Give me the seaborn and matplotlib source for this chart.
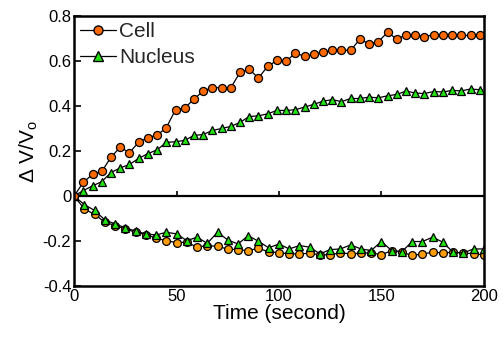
import matplotlib
matplotlib.use('Agg')
import matplotlib.pyplot as plt
import seaborn as sns
from matplotlib.lines import Line2D

# swelling (upper) sampled every 4.5 s
time_up = [0, 4.5, 9, 13.5, 18, 22.5, 27, 31.5, 36, 40.5, 45, 49.5, 54, 58.5, 63,
           67.5, 72, 76.5, 81, 85.5, 90, 94.5, 99, 103.5, 108, 112.5, 117, 121.5,
           126, 130.5, 135, 139.5, 144, 148.5, 153, 157.5, 162, 166.5, 171, 175.5,
           180, 184.5, 189, 193.5, 198]
cell_up = [0, 0.061, 0.096, 0.109, 0.172, 0.217, 0.192, 0.239, 0.259, 0.270, 0.303,
           0.383, 0.392, 0.429, 0.467, 0.481, 0.481, 0.481, 0.549, 0.562, 0.524,
           0.576, 0.602, 0.598, 0.635, 0.620, 0.629, 0.638, 0.647, 0.647, 0.647,
           0.696, 0.676, 0.685, 0.727, 0.697, 0.715, 0.717, 0.706, 0.717, 0.713,
           0.713, 0.713, 0.713, 0.713]
nuc_up = [0, 0.024, 0.045, 0.064, 0.104, 0.125, 0.140, 0.167, 0.188, 0.205, 0.238,
          0.241, 0.247, 0.269, 0.273, 0.291, 0.300, 0.309, 0.327, 0.353, 0.356,
          0.365, 0.380, 0.380, 0.383, 0.395, 0.407, 0.421, 0.428, 0.419, 0.433,
          0.433, 0.439, 0.436, 0.445, 0.451, 0.466, 0.457, 0.455, 0.464, 0.462,
          0.469, 0.467, 0.475, 0.472]

# shrinking (lower) sampled every 5 s
time_low = [0, 5, 10, 15, 20, 25, 30, 35, 40, 45, 50, 55, 60, 65, 70, 75, 80, 85,
            90, 95, 100, 105, 110, 115, 120, 125, 130, 135, 140, 145, 150, 155,
            160, 165, 170, 175, 180, 185, 190, 195, 200]
cell_low = [0, -0.057, -0.082, -0.116, -0.131, -0.146, -0.161, -0.171, -0.187,
            -0.198, -0.207, -0.205, -0.227, -0.220, -0.224, -0.235, -0.239, -0.242,
            -0.232, -0.248, -0.251, -0.257, -0.257, -0.254, -0.261, -0.261, -0.252,
            -0.257, -0.254, -0.252, -0.261, -0.242, -0.250, -0.264, -0.257, -0.250,
            -0.252, -0.250, -0.252, -0.257, -0.261]
nuc_low = [0, -0.038, -0.064, -0.106, -0.124, -0.141, -0.156, -0.168, -0.173,
           -0.161, -0.168, -0.198, -0.183, -0.210, -0.161, -0.195, -0.213, -0.176,
           -0.201, -0.230, -0.213, -0.235, -0.220, -0.227, -0.257, -0.238, -0.235,
           -0.217, -0.235, -0.242, -0.202, -0.242, -0.247, -0.202, -0.202, -0.183,
           -0.205, -0.250, -0.252, -0.235, -0.235]

x_ticks = [0, 50, 100, 150, 200]
y_ticks = [-0.4, -0.2, 0, 0.2, 0.4, 0.6, 0.8]
y_ticklabels = ['-0.4', '-0.2', '0', '0.2', '0.4', '0.6', '0.8']

ORANGE = '#ff6a00'
ORANGE_LIGHT = '#ff9d0a'
GREEN = '#22e011'


def main():
    sns.set_theme(style='white')
    plt.rcParams['font.family'] = ['Liberation Sans', 'DejaVu Sans']
    plt.rcParams['mathtext.fontset'] = 'custom'
    plt.rcParams['mathtext.rm'] = 'Liberation Sans'
    plt.rcParams['mathtext.it'] = 'Liberation Sans:italic'

    fig = plt.figure(figsize=(5.04, 3.37), dpi=100)
    ax = fig.add_axes([0.147, 0.151, 0.813, 0.802])

    common = dict(color='black', linewidth=0.9, markeredgecolor='black',
                  markeredgewidth=0.9, errorbar=None, ax=ax)
    sns.lineplot(x=time_low, y=cell_low, marker='o', markersize=5.6,
                 markerfacecolor=ORANGE_LIGHT, **common)
    sns.lineplot(x=time_low, y=nuc_low, marker='^', markersize=5.8,
                 markerfacecolor=GREEN, **common)
    sns.lineplot(x=time_up, y=nuc_up, marker='^', markersize=5.8,
                 markerfacecolor=GREEN, **common)
    sns.lineplot(x=time_up, y=cell_up, marker='o', markersize=5.8,
                 markerfacecolor=ORANGE, **common)

    # zero line with the x ticks sitting on it
    ax.axhline(0, color='black', linewidth=1.6, zorder=1)
    ax.vlines(x_ticks[1:-1], 0, 0.022, color='black', linewidth=1.2, zorder=1)

    ax.set_xlim(0, 200)
    ax.set_ylim(-0.4, 0.8)
    ax.set_xticks(x_ticks)
    ax.set_yticks(y_ticks)
    ax.set_yticklabels(y_ticklabels)
    ax.tick_params(axis='y', direction='in', length=5, width=1.2, labelsize=12,
                   left=True, pad=2, colors='black')
    ax.tick_params(axis='x', length=0, labelsize=12, pad=2, colors='black')

    for sp in ax.spines.values():
        sp.set_visible(True)
        sp.set_color('black')
        sp.set_linewidth(1.8)

    ax.set_xlabel('Time (second)', fontsize=15, labelpad=0, color='black')
    ax.set_ylabel(r'$\Delta$ V/V$_{\mathrm{o}}$', fontsize=15, labelpad=2,
                  color='black')

    handles = [
        Line2D([], [], color='black', linewidth=0.9, marker='o', markersize=6.5,
               markerfacecolor=ORANGE, markeredgecolor='black'),
        Line2D([], [], color='black', linewidth=0.9, marker='^', markersize=6.5,
               markerfacecolor=GREEN, markeredgecolor='black'),
    ]
    ax.legend(handles, ['Cell', 'Nucleus'], loc='upper left', frameon=False,
              fontsize=15, handlelength=1.7, handletextpad=0.15,
              borderaxespad=0.1, labelspacing=0.35, borderpad=0.2)

    fig.savefig('out.png', dpi=100)


if __name__ == '__main__':
    main()
